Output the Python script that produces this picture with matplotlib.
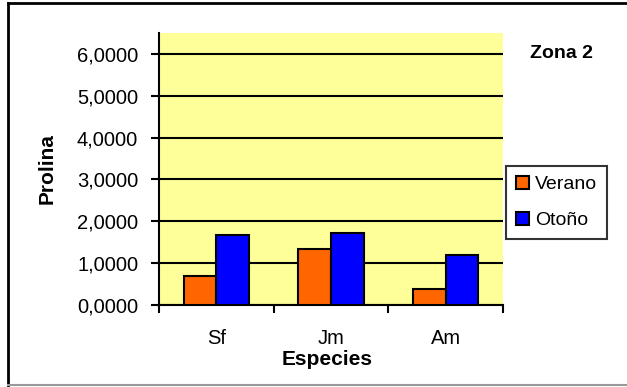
import matplotlib.pyplot as plt
import matplotlib.lines as mlines
import numpy as np

plt.rcParams['font.family'] = ['Liberation Sans', 'DejaVu Sans']

especies = ['Sf', 'Jm', 'Am']
verano = [0.70, 1.33, 0.38]
otono = [1.68, 1.72, 1.19]
y_ticks = [0, 1, 2, 3, 4, 5, 6]

W, H = 627, 387
fig = plt.figure(figsize=(W / 100, H / 100), dpi=100)
ax = fig.add_axes([159 / W, 1 - 305 / H, 344 / W, 272 / H])

x = np.arange(1, len(especies) + 1)
w = 1 / 3.5
ax.set_facecolor('#FFFF99')
ax.bar(x - w / 2, verano, w, color='#FF6600', edgecolor='black', linewidth=1.5,
       label='Verano', zorder=3)
ax.bar(x + w / 2, otono, w, color='#0000FF', edgecolor='black', linewidth=1.5,
       label='Otoño', zorder=3)

ax.set_xlim(0.5, 3.5)
ax.set_ylim(0, 6.5)
ax.set_yticks(y_ticks)
ax.set_yticklabels(['{:.4f}'.format(v).replace('.', ',') for v in y_ticks], fontsize=14.5)
ax.yaxis.grid(True, color='black', linewidth=1.5, zorder=1)
ax.set_axisbelow(True)

# category borders as major ticks, names on minor ticks
ax.set_xticks([0.5, 1.5, 2.5, 3.5])
ax.set_xticklabels([])
ax.set_xticks(x, minor=True)
ax.set_xticklabels(especies, minor=True, fontsize=14.5)
ax.tick_params(axis='x', which='minor', length=0, pad=17)
ax.tick_params(axis='both', which='major', length=6, width=1.5, direction='out')
ax.tick_params(axis='y', pad=9)

for s in ['top', 'right']:
    ax.spines[s].set_visible(False)
for s in ['left', 'bottom']:
    ax.spines[s].set_linewidth(1.5)

ax.set_xlabel('Especies', fontsize=15, fontweight='bold')
ax.xaxis.set_label_coords(0.49, -0.165)
ax.set_ylabel('Prolina', fontsize=15, fontweight='bold')
ax.yaxis.set_label_coords(-0.297, 0.5)

fig.text(561 / W, 1 - 53 / H, 'Zona 2', fontsize=14, fontweight='bold',
         ha='center', va='center')

leg = fig.legend(loc='upper left', bbox_to_anchor=(506 / W, 1 - 166 / H),
                 fontsize=14, frameon=True, fancybox=False, borderpad=0.5,
                 handlelength=0.7, handleheight=0.7, handletextpad=0.3,
                 labelspacing=0.95, borderaxespad=0)
leg.get_frame().set_edgecolor('black')
leg.get_frame().set_linewidth(1.5)

# chart frame
fig.add_artist(mlines.Line2D([8 / W, 1], [1 - 3 / H, 1 - 3 / H], color='black', linewidth=2))
fig.add_artist(mlines.Line2D([8 / W, 8 / W], [1 - 3 / H, 1 - 385 / H], color='black', linewidth=2))
fig.add_artist(mlines.Line2D([8 / W, 1], [1 - 385 / H, 1 - 385 / H], color='#999999', linewidth=1.5))

fig.savefig('out.png', dpi=100)
